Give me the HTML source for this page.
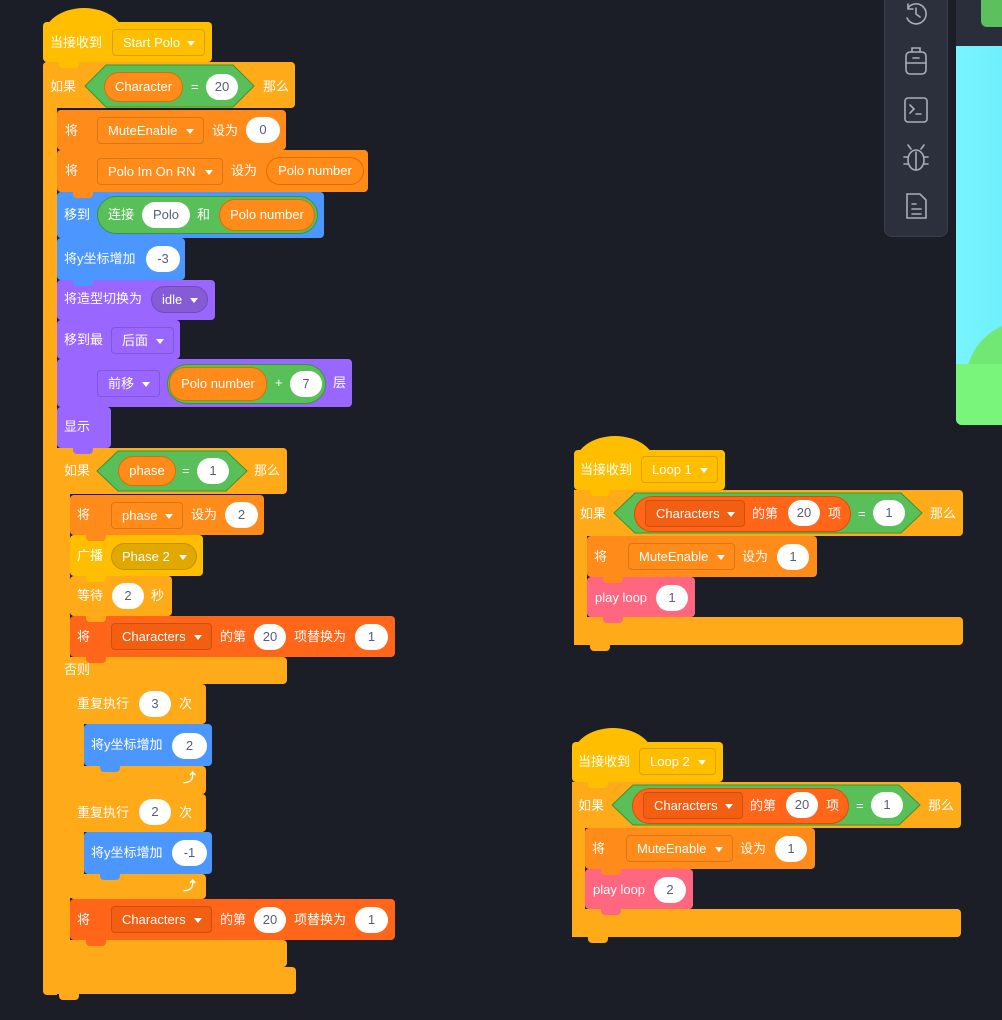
<!DOCTYPE html>
<html><head><meta charset="utf-8"><style>
body{margin:0;width:1002px;height:1020px;overflow:hidden;background:#1b1e26;font-family:"Liberation Sans","Noto Sans CJK SC",sans-serif;position:relative}
div,span{position:absolute;box-sizing:border-box}
.ev{background:#ffbf00}.ct{background:#ffab19}.da{background:#ff8c1a}.li{background:#ff661a}.mo{background:#4c97ff}.lo{background:#9966ff}.pk{background:#ff6680}.op{background:#59c059}
.b{border-radius:4px}
.t{color:#fff;font-size:13px;line-height:16px;white-space:nowrap}
.o{background:#fff;border-radius:14px;color:#575e75;font-size:13px;text-align:center;line-height:26px;height:26px}
.ov{background:#ff8c1a;border:1px solid #db6e00;color:#fff;border-radius:16px;font-size:13px;text-align:center}
.d{border:1px solid rgba(0,0,0,.15);border-radius:4px;color:#fff;font-size:13px;line-height:25px;height:27px;padding-left:10px;white-space:nowrap}
.d:after{content:"";position:absolute;right:9px;top:11px;border:4px solid transparent;border-top:5px solid #fff}
.cap{border-radius:50% 50% 0 0/100% 100% 0 0;background:#ffbf00}
.n{width:20px;height:6px;border-radius:0 0 4px 4px}
</style></head><body>
<!-- sidebar -->
<div style="left:884px;top:-10px;width:64px;height:247px;background:#2c303d;border:1px solid #3a3e4c;border-radius:8px"></div>
<svg style="position:absolute;left:884px;top:0" width="64" height="237" fill="none" stroke="#a9adb8" stroke-width="1.6" stroke-linecap="round">
<path d="M24 8 A10 10 0 1 1 23 18 M24 4 V9 H29 M32 8 V14 L36 17"/>
<rect x="22" y="52" width="20" height="22" rx="4"/><path d="M28 52 V48 H36 V52 M22 63 H42 M29 58 H35"/>
<rect x="21" y="98" width="22" height="24" rx="3"/><path d="M26 105 L30 109 L26 113 M32 114 H37"/>
<ellipse cx="32" cy="160" rx="8" ry="10"/><path d="M32 152 V170 M24 157 H20 M40 157 H44 M24 164 H20 M40 164 H44 M27 149 L24 145 M37 149 L40 145"/>
<path d="M23 194 H36 L42 200 V218 H23 Z M28 204 H32 M28 209 H37 M28 214 H37"/>
</svg>
<div style="left:956px;top:0;width:46px;height:46px;background:#2a2e3b"></div>
<div style="left:981px;top:-5px;width:30px;height:32px;background:#5cc15c;border-radius:6px"></div>
<div style="left:956px;top:46px;width:50px;height:379px;background:linear-gradient(90deg,#78f4ff,#6ef0fc);border-radius:0 0 0 6px;overflow:hidden"><div style="left:10px;top:275px;width:120px;height:120px;border-radius:50%;background:#72e874"></div><div style="left:0;top:318px;width:60px;height:70px;background:#7af57c"></div></div>

<!-- Script 1 blocks -->
<div class="cap" style="left:43px;top:8px;width:82px;height:30px"></div>
<div class="ev b" style="left:43px;top:22px;width:169px;height:40px"></div>
<div class="ct b" style="left:43px;top:62px;width:252px;height:46px"></div>
<div class="ct" style="left:43px;top:62px;width:14px;height:933px;border-radius:4px 0 0 4px"></div>
<div class="ct b" style="left:43px;top:967px;width:253px;height:27px"></div>
<div class="ct n" style="left:59px;top:994px"></div>
<div class="da b" style="left:57px;top:110px;width:229px;height:40px"></div>
<div class="da b" style="left:57px;top:150px;width:311px;height:42px"></div>
<div class="mo b" style="left:57px;top:192px;width:267px;height:46px"></div>
<div class="mo b" style="left:57px;top:238px;width:128px;height:42px"></div>
<div class="lo b" style="left:57px;top:280px;width:158px;height:40px"></div>
<div class="lo b" style="left:57px;top:320px;width:123px;height:39px"></div>
<div class="lo b" style="left:57px;top:359px;width:295px;height:48px"></div>
<div class="lo b" style="left:57px;top:407px;width:54px;height:41px"></div>
<div class="ct b" style="left:57px;top:448px;width:230px;height:46px"></div>
<div class="ct" style="left:57px;top:448px;width:13px;height:520px"></div>
<div class="ct b" style="left:57px;top:657px;width:230px;height:27px"></div>
<div class="ct b" style="left:57px;top:940px;width:230px;height:27px"></div>
<div class="da b" style="left:70px;top:495px;width:194px;height:40px"></div>
<div class="ev b" style="left:70px;top:535px;width:133px;height:41px"></div>
<div class="ct b" style="left:70px;top:576px;width:102px;height:40px"></div>
<div class="li b" style="left:70px;top:616px;width:325px;height:41px"></div>
<div class="ct b" style="left:70px;top:684px;width:136px;height:40px"></div>
<div class="ct" style="left:70px;top:684px;width:14px;height:110px"></div>
<div class="ct b" style="left:70px;top:766px;width:136px;height:28px"></div>
<div class="mo b" style="left:84px;top:724px;width:128px;height:42px"></div>
<div class="ct b" style="left:70px;top:794px;width:136px;height:38px"></div>
<div class="ct" style="left:70px;top:794px;width:14px;height:104px"></div>
<div class="ct b" style="left:70px;top:874px;width:136px;height:25px"></div>
<div class="mo b" style="left:84px;top:832px;width:128px;height:42px"></div>
<div class="li b" style="left:70px;top:899px;width:325px;height:41px"></div>
<!-- notches -->
<div class="ev n" style="left:59px;top:62px"></div>
<div class="da n" style="left:73px;top:150px"></div>
<div class="da n" style="left:73px;top:192px"></div>
<div class="mo n" style="left:73px;top:238px"></div>
<div class="mo n" style="left:73px;top:280px"></div>
<div class="lo n" style="left:73px;top:320px"></div>
<div class="lo n" style="left:73px;top:359px"></div>
<div class="lo n" style="left:73px;top:407px"></div>
<div class="lo n" style="left:73px;top:448px"></div>
<div class="da n" style="left:86px;top:535px"></div>
<div class="ev n" style="left:86px;top:576px"></div>
<div class="ct n" style="left:86px;top:616px"></div>
<div class="li n" style="left:86px;top:657px"></div>
<div class="mo n" style="left:100px;top:766px"></div>
<div class="mo n" style="left:100px;top:874px"></div>
<div class="li n" style="left:86px;top:940px"></div>

<!-- Script 2/3 blocks -->
<div class="cap" style="left:574px;top:436px;width:82px;height:30px"></div>
<div class="ev b" style="left:574px;top:450px;width:151px;height:40px"></div>
<div class="ct b" style="left:574px;top:490px;width:389px;height:46px"></div>
<div class="ct" style="left:574px;top:490px;width:13px;height:155px"></div>
<div class="ct b" style="left:574px;top:617px;width:389px;height:28px"></div>
<div class="ct n" style="left:590px;top:645px"></div>
<div class="da b" style="left:587px;top:536px;width:230px;height:41px"></div>
<div class="pk b" style="left:587px;top:577px;width:108px;height:40px"></div>
<div class="ev n" style="left:590px;top:490px"></div>
<div class="da n" style="left:603px;top:577px"></div>
<div class="pk n" style="left:603px;top:617px"></div>

<div class="cap" style="left:572px;top:728px;width:82px;height:30px"></div>
<div class="ev b" style="left:572px;top:742px;width:151px;height:40px"></div>
<div class="ct b" style="left:572px;top:782px;width:389px;height:46px"></div>
<div class="ct" style="left:572px;top:782px;width:13px;height:155px"></div>
<div class="ct b" style="left:572px;top:909px;width:389px;height:28px"></div>
<div class="ct n" style="left:588px;top:937px"></div>
<div class="da b" style="left:585px;top:828px;width:230px;height:41px"></div>
<div class="pk b" style="left:585px;top:869px;width:108px;height:40px"></div>
<div class="ev n" style="left:588px;top:782px"></div>
<div class="da n" style="left:601px;top:869px"></div>
<div class="pk n" style="left:601px;top:909px"></div>

<!-- hexagons -->
<svg style="position:absolute;left:0;top:0" width="1002" height="1020">
<g fill="#59c059" stroke="#389438" stroke-width="1">
<polygon points="85,86 106,65 233,65 254,86 233,107 106,107"/>
<polygon points="97,471 118,451 226,451 247,471 226,491 118,491"/>
<polygon points="614,513 635,493 901,493 922,513 901,533 635,533"/>
<polygon points="612,805 633,785 899,785 920,805 899,825 633,825"/>
</g></svg>
<div class="op" style="left:97px;top:196px;width:221px;height:38px;border-radius:19px;border:1px solid #389438"></div>
<div class="op" style="left:167px;top:364px;width:159px;height:40px;border-radius:20px;border:1px solid #389438"></div>
<div class="li" style="left:634px;top:496px;width:217px;height:36px;border-radius:18px;border:1px solid #e04d00"></div>
<div class="li" style="left:632px;top:788px;width:217px;height:36px;border-radius:18px;border:1px solid #e04d00"></div>

<!-- Script 1 content -->
<span class="t" style="left:50px;top:35px">当接收到</span>
<div class="d ev" style="left:112px;top:29px;width:93px">Start Polo</div>
<span class="t" style="left:50px;top:79px">如果</span>
<div class="ov" style="left:104px;top:72px;width:79px;height:30px;line-height:28px">Character</div>
<span class="t" style="left:191px;top:79px">=</span>
<div class="o" style="left:206px;top:74px;width:32px">20</div>
<span class="t" style="left:263px;top:79px">那么</span>

<span class="t" style="left:65px;top:123px">将</span>
<div class="d da" style="left:97px;top:117px;width:107px">MuteEnable</div>
<span class="t" style="left:212px;top:123px">设为</span>
<div class="o" style="left:246px;top:117px;width:34px">0</div>

<span class="t" style="left:65px;top:163px">将</span>
<div class="d da" style="left:97px;top:158px;width:126px">Polo Im On RN</div>
<span class="t" style="left:231px;top:163px">设为</span>
<div class="ov" style="left:266px;top:157px;width:98px;height:28px;line-height:26px">Polo number</div>

<span class="t" style="left:64px;top:207px">移到</span>
<span class="t" style="left:108px;top:207px">连接</span>
<div class="o" style="left:142px;top:202px;width:48px">Polo</div>
<span class="t" style="left:197px;top:207px">和</span>
<div class="ov" style="left:219px;top:199px;width:96px;height:32px;line-height:30px">Polo number</div>

<span class="t" style="left:64px;top:251px">将y坐标增加</span>
<div class="o" style="left:146px;top:246px;width:34px">-3</div>
<span class="t" style="left:64px;top:291px">将造型切换为</span>
<div class="d" style="left:151px;top:286px;width:57px;background:#855cd6;border-radius:14px">idle</div>
<span class="t" style="left:64px;top:332px">移到最</span>
<div class="d lo" style="left:111px;top:327px;width:63px">后面</div>
<div class="d lo" style="left:97px;top:370px;width:63px">前移</div>
<div class="ov" style="left:169px;top:367px;width:98px;height:34px;line-height:32px">Polo number</div>
<span class="t" style="left:275px;top:375px">+</span>
<div class="o" style="left:290px;top:371px;width:32px">7</div>
<span class="t" style="left:333px;top:375px">层</span>
<span class="t" style="left:64px;top:419px">显示</span>

<span class="t" style="left:64px;top:463px">如果</span>
<div class="ov" style="left:118px;top:456px;width:58px;height:30px;line-height:28px">phase</div>
<span class="t" style="left:182px;top:463px">=</span>
<div class="o" style="left:197px;top:458px;width:32px">1</div>
<span class="t" style="left:254px;top:463px">那么</span>

<span class="t" style="left:77px;top:507px">将</span>
<div class="d da" style="left:111px;top:502px;width:72px">phase</div>
<span class="t" style="left:191px;top:507px">设为</span>
<div class="o" style="left:225px;top:502px;width:33px">2</div>

<span class="t" style="left:77px;top:548px">广播</span>
<div class="d" style="left:111px;top:543px;width:86px;background:#e0a800;border-radius:14px">Phase 2</div>
<span class="t" style="left:77px;top:588px">等待</span>
<div class="o" style="left:112px;top:583px;width:32px">2</div>
<span class="t" style="left:151px;top:588px">秒</span>

<span class="t" style="left:77px;top:629px">将</span>
<div class="d" style="left:111px;top:623px;width:101px;background:#f25e12">Characters</div>
<span class="t" style="left:220px;top:629px">的第</span>
<div class="o" style="left:254px;top:624px;width:32px">20</div>
<span class="t" style="left:294px;top:629px">项替换为</span>
<div class="o" style="left:355px;top:624px;width:33px">1</div>

<span class="t" style="left:64px;top:662px">否则</span>
<span class="t" style="left:77px;top:696px">重复执行</span>
<div class="o" style="left:139px;top:691px;width:32px">3</div>
<span class="t" style="left:179px;top:696px">次</span>
<span class="t" style="left:91px;top:737px">将y坐标增加</span>
<div class="o" style="left:172px;top:733px;width:35px">2</div>
<span class="t" style="left:183px;top:770px;font-weight:bold">⤴</span>
<span class="t" style="left:77px;top:805px">重复执行</span>
<div class="o" style="left:139px;top:799px;width:32px">2</div>
<span class="t" style="left:179px;top:805px">次</span>
<span class="t" style="left:91px;top:845px">将y坐标增加</span>
<div class="o" style="left:172px;top:840px;width:35px">-1</div>
<span class="t" style="left:183px;top:878px;font-weight:bold">⤴</span>

<span class="t" style="left:77px;top:912px">将</span>
<div class="d" style="left:111px;top:906px;width:101px;background:#f25e12">Characters</div>
<span class="t" style="left:220px;top:912px">的第</span>
<div class="o" style="left:254px;top:907px;width:32px">20</div>
<span class="t" style="left:294px;top:912px">项替换为</span>
<div class="o" style="left:355px;top:907px;width:33px">1</div>

<!-- Script 2 content -->
<span class="t" style="left:580px;top:462px">当接收到</span>
<div class="d ev" style="left:641px;top:456px;width:77px">Loop 1</div>
<span class="t" style="left:580px;top:506px">如果</span>
<div class="d" style="left:645px;top:500px;width:100px;background:#f25e12">Characters</div>
<span class="t" style="left:752px;top:506px">的第</span>
<div class="o" style="left:788px;top:500px;width:32px">20</div>
<span class="t" style="left:828px;top:506px">项</span>
<span class="t" style="left:858px;top:506px">=</span>
<div class="o" style="left:873px;top:500px;width:32px">1</div>
<span class="t" style="left:930px;top:506px">那么</span>
<span class="t" style="left:594px;top:549px">将</span>
<div class="d da" style="left:628px;top:543px;width:107px">MuteEnable</div>
<span class="t" style="left:742px;top:549px">设为</span>
<div class="o" style="left:777px;top:544px;width:32px">1</div>
<span class="t" style="left:595px;top:590px">play loop</span>
<div class="o" style="left:656px;top:585px;width:32px">1</div>

<!-- Script 3 content -->
<span class="t" style="left:578px;top:754px">当接收到</span>
<div class="d ev" style="left:639px;top:748px;width:77px">Loop 2</div>
<span class="t" style="left:578px;top:798px">如果</span>
<div class="d" style="left:643px;top:792px;width:100px;background:#f25e12">Characters</div>
<span class="t" style="left:750px;top:798px">的第</span>
<div class="o" style="left:786px;top:792px;width:32px">20</div>
<span class="t" style="left:826px;top:798px">项</span>
<span class="t" style="left:856px;top:798px">=</span>
<div class="o" style="left:871px;top:792px;width:32px">1</div>
<span class="t" style="left:928px;top:798px">那么</span>
<span class="t" style="left:592px;top:841px">将</span>
<div class="d da" style="left:626px;top:835px;width:107px">MuteEnable</div>
<span class="t" style="left:740px;top:841px">设为</span>
<div class="o" style="left:775px;top:836px;width:32px">1</div>
<span class="t" style="left:593px;top:882px">play loop</span>
<div class="o" style="left:654px;top:877px;width:32px">2</div>
</body></html>
